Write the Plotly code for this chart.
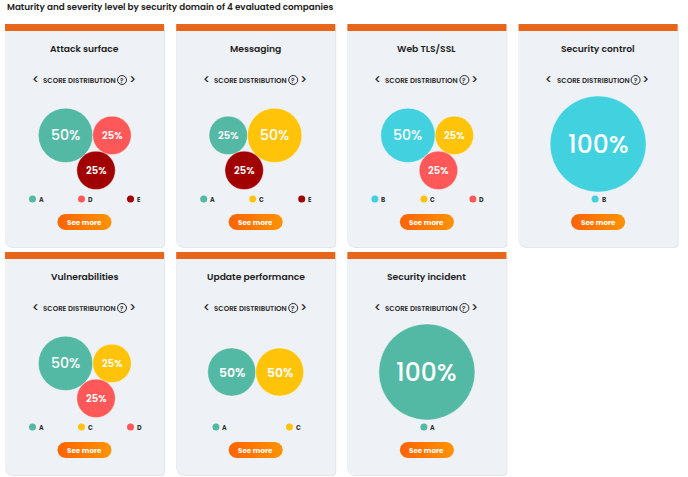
import numpy as np
import plotly.graph_objects as go

# ---------------- data ----------------
title = "Maturity and severity level by security domain of 4 evaluated companies"
domains = ["Attack surface", "Messaging", "Web TLS/SSL", "Security control",
           "Vulnerabilities", "Update performance", "Security incident"]
grades = [["A", "D", "E"], ["A", "C", "E"], ["B", "C", "D"], ["B"],
          ["A", "C", "D"], ["A", "C"], ["A"]]
shares = [[50, 25, 25], [25, 50, 25], [50, 25, 25], [100],
          [50, 25, 25], [50, 50], [100]]
grade_colors = {"A": "#53b9a4", "B": "#42d1df", "C": "#ffc40a", "D": "#ff5858", "E": "#a20101"}

# ---------------- layout constants ----------------
W, H = 688, 477
CARD_X0, CARD_DX, CARD_W = 5.0, 171.2, 159.0
ROW_Y0, ROW_DY, CARD_H = 24.0, 228.0, 223.0
BAR_H = 7.0
PACK_R = 48.0
FONT = "Poppins, Inter, 'Open Sans', sans-serif"


def pack(values):
    r = np.sqrt(np.array(values, dtype=float))
    n = len(r)
    c = np.zeros((n, 2))
    if n >= 2:
        c[0] = (-r[1], 0.0)
        c[1] = (r[0], 0.0)
    if n >= 3:
        d = r[0] + r[1]
        da = r[0] + r[2]
        db = r[1] + r[2]
        x = (da ** 2 - db ** 2 + d ** 2) / (2 * d)
        y = np.sqrt(max(da ** 2 - x ** 2, 0))
        c[2] = (c[0, 0] + x, y)
    # enclosing circle (numeric minimisation of max(|p-ci|+ri))
    lo = (c - r[:, None]).min(axis=0)
    hi = (c + r[:, None]).max(axis=0)
    ctr = (lo + hi) / 2
    span = (hi - lo).max()
    for _ in range(6):
        gx = np.linspace(ctr[0] - span / 2, ctr[0] + span / 2, 121)
        gy = np.linspace(ctr[1] - span / 2, ctr[1] + span / 2, 121)
        X, Y = np.meshgrid(gx, gy)
        f = np.max([np.hypot(X - cx, Y - cy) + ri for (cx, cy), ri in zip(c, r)], axis=0)
        k = np.unravel_index(np.argmin(f), f.shape)
        ctr = np.array([X[k], Y[k]])
        R = f[k]
        span /= 8
    s = PACK_R / R
    return (c - ctr) * s, r * s


def rounded_path(x0, y0, x1, y1, rtl, rtr, rbr, rbl):
    k = 0.5523
    p = f"M {x0 + rtl},{y0} L {x1 - rtr},{y0} "
    p += f"C {x1 - rtr + k * rtr},{y0} {x1},{y0 + rtr - k * rtr} {x1},{y0 + rtr} "
    p += f"L {x1},{y1 - rbr} "
    p += f"C {x1},{y1 - rbr + k * rbr} {x1 - rbr + k * rbr},{y1} {x1 - rbr},{y1} "
    p += f"L {x0 + rbl},{y1} "
    p += f"C {x0 + rbl - k * rbl},{y1} {x0},{y1 - rbl + k * rbl} {x0},{y1 - rbl} "
    p += f"L {x0},{y0 + rtl} "
    p += f"C {x0},{y0 + rtl - k * rtl} {x0 + rtl - k * rtl},{y0} {x0 + rtl},{y0} Z"
    return p


def pill_xy(cx, cy, w, h, n=24):
    r = h / 2
    xs, ys = [], []
    a = np.linspace(-np.pi / 2, np.pi / 2, n)
    xs += list(cx + w / 2 - r + r * np.cos(a)); ys += list(cy + r * np.sin(a))
    a = np.linspace(np.pi / 2, 3 * np.pi / 2, n)
    xs += list(cx - w / 2 + r + r * np.cos(a)); ys += list(cy + r * np.sin(a))
    xs.append(xs[0]); ys.append(ys[0])
    return xs, ys


fig = go.Figure()
shapes, annos = [], []

annos.append(dict(x=5, y=7, text=title, xanchor="left", yanchor="middle", showarrow=False,
                  font=dict(family=FONT, size=8.8, color="#222222", weight=600)))

bx, by, bs, bc = [], [], [], []
tx, ty, tt, tsz = [], [], [], []
lx, ly, lc = [], [], []
qx, qy = [], []

for i, dom in enumerate(domains):
    row, col = divmod(i, 4)
    x0 = CARD_X0 + col * CARD_DX
    x1 = x0 + CARD_W
    y0 = ROW_Y0 + row * ROW_DY
    y1 = y0 + CARD_H
    cx = (x0 + x1) / 2
    # shadow + card
    shapes.append(dict(type="path", path=rounded_path(x0, y0 + 1, x1 + 1, y1 + 1, 0, 0, 4, 8),
                       fillcolor="#e3e6eb", line=dict(width=0), layer="below"))
    shapes.append(dict(type="path", path=rounded_path(x0, y0, x1, y1, 0, 0, 4, 8),
                       fillcolor="#eef1f6", line=dict(width=0), layer="below"))
    shapes.append(dict(type="rect", x0=x0, x1=x1, y0=y0, y1=y0 + BAR_H,
                       fillcolor="#e8661a", line=dict(width=0), layer="below"))
    # titles
    annos.append(dict(x=cx, y=y0 + 24, text=dom, showarrow=False, xanchor="center", yanchor="middle",
                      font=dict(family=FONT, size=9.2, color="#1e1e1e", weight=600)))
    annos.append(dict(x=cx - 5, y=y0 + 56, text="SCORE DISTRIBUTION", showarrow=False,
                      xanchor="center", yanchor="middle",
                      font=dict(family=FONT, size=7.0, color="#2a2a2a", weight=600)))
    annos.append(dict(x=cx - 49.5, y=y0 + 55.5, text="<", showarrow=False, xanchor="center", yanchor="middle",
                      font=dict(family=FONT, size=12, color="#2a2a2a", weight=500)))
    annos.append(dict(x=cx + 47.5, y=y0 + 55.5, text=">", showarrow=False, xanchor="center", yanchor="middle",
                      font=dict(family=FONT, size=12, color="#2a2a2a", weight=500)))
    annos.append(dict(x=cx + 37.5, y=y0 + 56.3, text="?", showarrow=False, xanchor="center", yanchor="middle",
                      font=dict(family=FONT, size=6.5, color="#2a2a2a", weight=600)))
    qx.append(cx + 37.5); qy.append(y0 + 56)
    # bubbles
    pos, rad = pack(shares[i])
    for (px, py), rr, g, v in zip(pos, rad, grades[i], shares[i]):
        bx.append(cx + px); by.append(y0 + 120 + py); bs.append(2 * rr); bc.append(grade_colors[g])
        tx.append(cx + px); ty.append(y0 + 120 + py); tt.append(f"{v}%"); tsz.append(rr * 0.52)
    # legend
    n = len(grades[i])
    for j, g in enumerate(grades[i]):
        ic = cx + (j - (n - 1) / 2) * 147.0 / n
        lx.append(ic - 3); ly.append(y0 + 175); lc.append(grade_colors[g])
        annos.append(dict(x=ic + 1.5, y=y0 + 175, text=g, showarrow=False, xanchor="left", yanchor="middle",
                          font=dict(family=FONT, size=6.3, color="#333333", weight=700)))
    # button
    px_, py_ = pill_xy(cx, y0 + 198, 54, 16)
    fig.add_trace(go.Scatter(x=px_, y=py_, mode="lines", fill="toself", line=dict(width=0),
                             fillgradient=dict(type="horizontal",
                                               colorscale=[[0, "#ff6300"], [1, "#ff9300"]]),
                             hoverinfo="skip", showlegend=False))
    annos.append(dict(x=cx, y=y0 + 198, text="See more", showarrow=False, xanchor="center", yanchor="middle",
                      font=dict(family=FONT, size=7.2, color="#ffffff", weight=700)))

fig.add_trace(go.Scatter(x=bx, y=by, mode="markers",
                         marker=dict(size=bs, color=bc, opacity=1,
                                     line=dict(width=0.6, color="rgba(255,255,255,0.6)")),
                         hoverinfo="skip", showlegend=False))
for x_, y_, t_, s_ in zip(tx, ty, tt, tsz):
    annos.append(dict(x=x_, y=y_, text=t_, showarrow=False, xanchor="center", yanchor="middle",
                      font=dict(family=FONT, size=s_, color="#ffffff", weight=500 if s_ > 13 else 600)))
fig.add_trace(go.Scatter(x=lx, y=ly, mode="markers", marker=dict(size=7, color=lc, opacity=1),
                         hoverinfo="skip", showlegend=False))
fig.add_trace(go.Scatter(x=qx, y=qy, mode="markers",
                         marker=dict(size=9, color="rgba(0,0,0,0)", opacity=1,
                                     line=dict(width=1, color="#2a2a2a")),
                         hoverinfo="skip", showlegend=False))

fig.update_layout(width=W, height=H, margin=dict(l=0, r=0, t=0, b=0),
                  paper_bgcolor="white", plot_bgcolor="white",
                  xaxis=dict(range=[0, W], visible=False, fixedrange=True),
                  yaxis=dict(range=[H, 0], visible=False, fixedrange=True),
                  shapes=shapes, annotations=annos, showlegend=False)
fig.write_html("out.html", config={"displayModeBar": False})
